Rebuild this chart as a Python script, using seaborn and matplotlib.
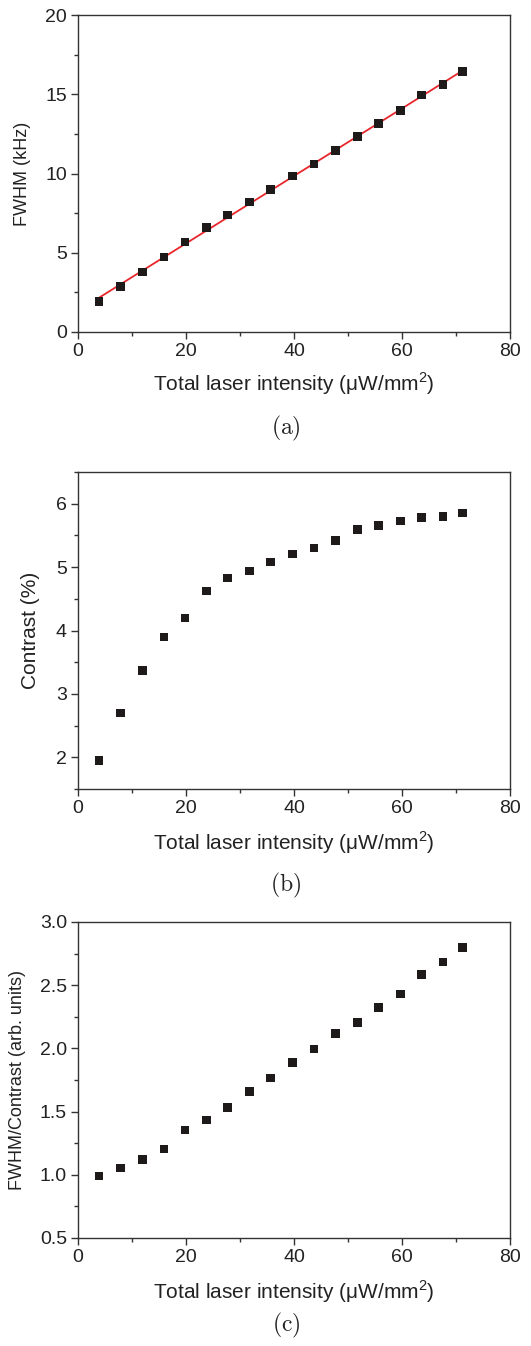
"""Three stacked panels: FWHM, contrast and their ratio vs total laser intensity."""
import matplotlib
matplotlib.use("Agg")
import matplotlib.pyplot as plt
import numpy as np
import pandas as pd
import seaborn as sns
from matplotlib.ticker import AutoMinorLocator, FormatStrFormatter, MultipleLocator

# data
intensity = [3.9, 7.9, 11.9, 15.9, 19.8, 23.8, 27.7, 31.8, 35.7,
             39.7, 43.7, 47.7, 51.8, 55.7, 59.7, 63.6, 67.6, 71.2]
fwhm = [1.94, 2.86, 3.79, 4.72, 5.68, 6.61, 7.39, 8.21, 8.99,
        9.85, 10.61, 11.45, 12.34, 13.14, 13.96, 14.95, 15.62, 16.42]
contrast = [1.95, 2.70, 3.37, 3.90, 4.20, 4.62, 4.83, 4.94, 5.08,
            5.21, 5.30, 5.42, 5.59, 5.66, 5.73, 5.78, 5.80, 5.85]
ratio = [0.99, 1.055, 1.12, 1.205, 1.355, 1.434, 1.532, 1.658, 1.766,
         1.887, 1.995, 2.116, 2.205, 2.324, 2.432, 2.584, 2.684, 2.80]

panel_labels = ["(a)", "(b)", "(c)"]
y_labels = ["FWHM (kHz)", "Contrast (%)", "FWHM/Contrast (arb. units)"]
x_label = "Total laser intensity (\u03bcW/mm$^2$)"

sns.set_style("ticks")
plt.rcParams["font.family"] = ["Liberation Sans", "DejaVu Sans"]
plt.rcParams["mathtext.fontset"] = "custom"
plt.rcParams["mathtext.rm"] = "Liberation Sans"
plt.rcParams["axes.edgecolor"] = "#333333"
plt.rcParams["axes.linewidth"] = 1.0

df = pd.DataFrame({"x": intensity, "fwhm": fwhm, "contrast": contrast, "ratio": ratio})

W, H = 531, 1346
fig = plt.figure(figsize=(W / 100, H / 100), dpi=100)

# pixel layout: (top, bottom) of each axes, caption centre y, label positions
ax_top = [15, 472, 922]
ax_bot = [332, 789, 1238]
ax_left, ax_right = 78, 510
caption_y = [428, 885, 1325]
xlabel_y = [384, 843, 1292]
ylabel_x = [23, 30, 18]
ylabel_size = [13, 15, 13]

cols = ["fwhm", "contrast", "ratio"]
ylims = [(0, 20), (1.5, 6.5), (0.5, 3.0)]
ymajor = [5, 1, 0.5]

for i, col in enumerate(cols):
    h = ax_bot[i] - ax_top[i]
    w = ax_right - ax_left
    ax = fig.add_axes([ax_left / W, 1 - ax_bot[i] / H, w / W, h / H])
    if col == "fwhm":
        slope, icpt = np.polyfit(df["x"], df["fwhm"], 1)
        fit = pd.DataFrame({"x": df["x"], "y": slope * df["x"] + icpt})
        sns.lineplot(data=fit, x="x", y="y", color="#e8262b", lw=1.3, ax=ax)
    sns.scatterplot(data=df, x="x", y=col, marker="s", s=38, color="#1e1a1a",
                    edgecolor="none", ax=ax, zorder=3)
    ax.set_xlim(0, 80)
    ax.set_ylim(*ylims[i])
    ax.xaxis.set_major_locator(MultipleLocator(20))
    ax.xaxis.set_minor_locator(AutoMinorLocator(2))
    ax.yaxis.set_major_locator(MultipleLocator(ymajor[i]))
    ax.yaxis.set_minor_locator(AutoMinorLocator(2))
    ax.tick_params(which="major", length=5, width=1, labelsize=14, colors="#333333",
                   labelcolor="#222222", direction="out", pad=3)
    ax.tick_params(which="minor", length=3, width=1, colors="#333333", direction="out")
    if col == "ratio":
        ax.yaxis.set_major_formatter(FormatStrFormatter("%.1f"))
    for s in ["top", "right"]:
        ax.spines[s].set_visible(True)

    ax.set_xlabel(x_label, fontsize=15, color="#222222")
    ax.xaxis.label.set_va("center")
    ax.xaxis.set_label_coords(0.5, (ax_bot[i] - xlabel_y[i]) / h)
    ax.set_ylabel(y_labels[i], fontsize=ylabel_size[i], color="#222222")
    ax.yaxis.label.set_va("center")
    ax.yaxis.set_label_coords((ylabel_x[i] - ax_left) / w, 0.5)

    fig.text(286 / W, 1 - caption_y[i] / H, "$\\mathrm{" + panel_labels[i] + "}$",
             ha="center", va="center", fontsize=17, math_fontfamily="cm", color="#222222")

fig.savefig("out.png", dpi=100)
